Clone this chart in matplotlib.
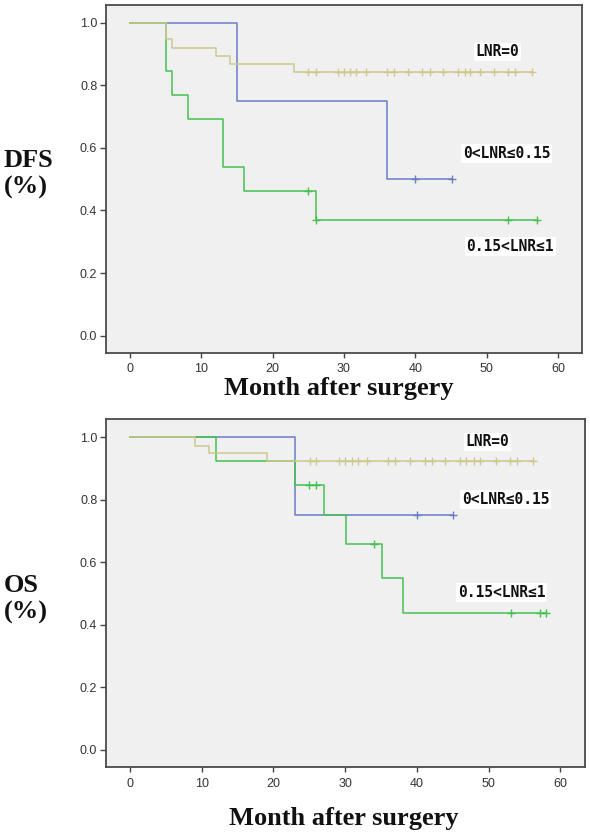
"""
Kaplan-Meier curves (DFS and OS) by lymph node ratio group
"""

import matplotlib

matplotlib.use("Agg")

import matplotlib.pyplot as plt
import numpy as np

# ---- data ----
group_names = ["LNR=0", "0<LNR≤0.15", "0.15<LNR≤1"]
group_colors = ["#cec88e", "#6a7ec6", "#44c150"]

# DFS: event times (months) and survival after each step
dfs_times_lnr0 = [0, 5.1, 5.9, 12.1, 14.1, 23.0]
dfs_surv_lnr0 = [1.0, 0.947, 0.921, 0.895, 0.870, 0.843]
dfs_cens_lnr0 = [24.9, 26.1, 29.1, 30.0, 30.9, 31.7, 33.1, 36.0, 37.0, 39.0, 41.0,
                 42.1, 43.9, 46.0, 46.9, 47.7, 49.0, 51.0, 53.0, 53.9, 56.3]

dfs_times_mid = [0, 15.0, 36.0]
dfs_surv_mid = [1.0, 0.75, 0.50]
dfs_cens_mid = [40.0, 45.1]

dfs_times_high = [0, 5.0, 5.9, 8.1, 13.1, 16.0, 26.1]
dfs_surv_high = [1.0, 0.846, 0.769, 0.692, 0.538, 0.462, 0.369]
dfs_cens_high = [25.0, 26.1, 53.0, 57.1]

# OS
os_times_lnr0 = [0, 9.0, 11.0, 19.1]
os_surv_lnr0 = [1.0, 0.972, 0.948, 0.923]
os_cens_lnr0 = [25.1, 26.0, 29.1, 30.0, 30.9, 31.8, 33.0, 36.0, 37.0, 39.0, 41.1,
                42.1, 43.9, 46.0, 46.9, 47.9, 48.8, 51.1, 53.0, 53.9, 56.2]

os_times_mid = [0, 23.0]
os_surv_mid = [1.0, 0.75]
os_cens_mid = [40.0, 45.1]

os_times_high = [0, 12.0, 23.0, 27.1, 30.1, 35.1, 38.0]
os_surv_high = [1.0, 0.923, 0.846, 0.750, 0.658, 0.548, 0.439]
os_cens_high = [25.0, 26.0, 34.0, 53.1, 57.1, 58.0]

x_ticks = [0, 10, 20, 30, 40, 50, 60]
y_ticks = [0.0, 0.2, 0.4, 0.6, 0.8, 1.0]


def surv_at(times, surv, t):
    """step-function value at time t"""
    idx = np.searchsorted(np.asarray(times), t, side="right") - 1
    return np.asarray(surv)[idx]


def draw_km(ax, times, surv, cens, color, z):
    t_end = max(times[-1], max(cens))
    xs = list(times) + [t_end]
    ys = list(surv) + [surv[-1]]
    ax.step(xs, ys, where="post", color=color, lw=1.1, zorder=z)
    cy = [surv_at(times, surv, c) for c in cens]
    ax.plot(cens, cy, ls="none", marker="+", ms=6, mew=1.0, color=color, zorder=z)


def style_axes(ax):
    ax.set_facecolor("#f0f0f0")
    ax.set_xlim(-3.4, 63.4)
    ax.set_ylim(-0.056, 1.058)
    ax.set_xticks(x_ticks)
    ax.set_yticks(y_ticks)
    ax.set_yticklabels([f"{v:.1f}" for v in y_ticks])
    for s in ax.spines.values():
        s.set_color("#4a4a4a")
        s.set_linewidth(1.3)
    ax.tick_params(axis="both", direction="out", colors="#444444", labelcolor="#333333",
                   labelsize=9, width=1.0)
    ax.tick_params(axis="y", length=4.5, pad=1.5)
    ax.tick_params(axis="x", length=3.5, pad=4)
    for lab in ax.get_xticklabels() + ax.get_yticklabels():
        lab.set_fontfamily("Liberation Sans")


def group_label(ax, x, y, text):
    ax.text(x, y, text, ha="center", va="center", fontsize=10.5, fontweight="bold",
            family=["DejaVu Sans Mono"], color="#111111", zorder=6,
            bbox=dict(boxstyle="square,pad=0.12", fc="white", ec="none"))


fig = plt.figure(figsize=(5.9, 8.35), dpi=100)
ax1 = fig.add_axes([0.179, 0.5772, 0.808, 0.4171])
ax2 = fig.add_axes([0.179, 0.0811, 0.812, 0.4171])

# top: DFS
draw_km(ax1, dfs_times_mid, dfs_surv_mid, dfs_cens_mid, group_colors[1], 3)
draw_km(ax1, dfs_times_high, dfs_surv_high, dfs_cens_high, group_colors[2], 4)
draw_km(ax1, dfs_times_lnr0, dfs_surv_lnr0, dfs_cens_lnr0, group_colors[0], 5)
style_axes(ax1)
group_label(ax1, 51.5, 0.907, group_names[0])
group_label(ax1, 52.8, 0.583, group_names[1])
group_label(ax1, 53.3, 0.284, group_names[2])

# bottom: OS
draw_km(ax2, os_times_mid, os_surv_mid, os_cens_mid, group_colors[1], 3)
draw_km(ax2, os_times_high, os_surv_high, os_cens_high, group_colors[2], 4)
draw_km(ax2, os_times_lnr0, os_surv_lnr0, os_cens_lnr0, group_colors[0], 5)
style_axes(ax2)
group_label(ax2, 49.8, 0.985, group_names[0])
group_label(ax2, 52.4, 0.800, group_names[1])
group_label(ax2, 51.8, 0.503, group_names[2])

serif = dict(family=["Liberation Serif"], fontweight="bold", fontsize=19, color="#111111")
fig.text(0.006, 0.792, "DFS\n(%)", ha="left", va="center", linespacing=1.2, **serif)
fig.text(0.006, 0.283, "OS\n(%)", ha="left", va="center", linespacing=1.2, **serif)
fig.text(0.574, 0.527, "Month after surgery", ha="center", va="baseline", **serif)
fig.text(0.582, 0.012, "Month after surgery", ha="center", va="baseline", **serif)

fig.savefig("out.png", dpi=100)
